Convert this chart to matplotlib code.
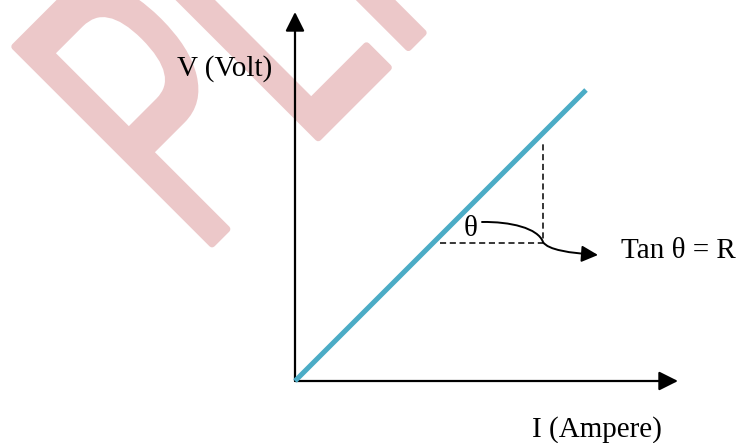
"""V-I characteristic of an ohmic conductor: slope of the line gives R."""
import matplotlib
matplotlib.use('Agg')
import matplotlib.pyplot as plt
from matplotlib import patheffects
from matplotlib.patches import FancyArrowPatch
from matplotlib.path import Path
from matplotlib.transforms import Affine2D

# straight V-I line (pixel-like units, origin at the axes corner)
I_line = [0, 291]
V_line = [0, 291]
# slope triangle drawn with dashes
tri_I = [145, 248, 248]
tri_V = [138, 138, 238]
# axis extents (arrow tips)
I_max = 383
V_max = 369

BLUE = '#4bacc6'
PINK = '#ecc8c9'
SERIF = ['Liberation Serif', 'DejaVu Serif']


class Narrow(patheffects.AbstractPathEffect):
    """Squeeze glyphs sideways and round them off with a fat stroke."""
    def __init__(self, sx, lw):
        super().__init__()
        self.sx, self.lw = sx, lw

    def draw_path(self, renderer, gc, tpath, affine, rgbFace=None):
        gc0 = renderer.new_gc()
        gc0.copy_properties(gc)
        gc0.set_linewidth(self.lw)
        gc0.set_joinstyle('round')
        gc0.set_capstyle('round')
        gc0.set_foreground(rgbFace)
        renderer.draw_path(gc0, tpath, Affine2D().scale(self.sx, 1) + affine, rgbFace)
        gc0.restore()


fig = plt.figure(figsize=(7.38, 4.43), dpi=100)
ax = fig.add_axes([0, 0, 1, 1])
ax.set_xlim(-295, 443)
ax.set_ylim(-62, 381)
ax.axis('off')

# watermark
wm = ax.text(-96, 124, 'PLI', family='Liberation Sans', fontsize=292, color=PINK,
             rotation=45, rotation_mode='anchor', ha='left', va='baseline', zorder=0)
wm.set_path_effects([Narrow(0.555, 5.0)])

# axes with arrow heads
arrow_kw = dict(arrowstyle='-|>,head_length=0.4,head_width=0.2', mutation_scale=29,
                lw=1.6, color='black', shrinkA=0, shrinkB=0)
ax.annotate('', xy=(0, V_max), xytext=(0, 0), arrowprops=arrow_kw, zorder=3)
ax.annotate('', xy=(I_max, 0), xytext=(0, 0), arrowprops=arrow_kw, zorder=3)

ax.plot(I_line, V_line, color=BLUE, lw=3.6, solid_capstyle='butt', zorder=4)
ax.plot(tri_I, tri_V, color='black', lw=1.1, linestyle=(0, (4, 2.4)), zorder=2)

# curved pointer from the angle to the label
verts = [(187, 159), (215, 159.5), (243, 153), (248, 139),
         (253, 131), (275, 128), (303, 126)]
codes = [Path.MOVETO, Path.CURVE4, Path.CURVE4, Path.CURVE4,
         Path.CURVE4, Path.CURVE4, Path.CURVE4]
ax.add_patch(FancyArrowPatch(path=Path(verts, codes),
                             arrowstyle='-|>,head_length=0.4,head_width=0.2',
                             mutation_scale=25, lw=1.4, color='black', zorder=3))

ax.text(-118, 305, 'V (Volt)', family=SERIF, fontsize=21, ha='left', va='baseline')
ax.text(237, -56, 'I (Ampere)', family=SERIF, fontsize=21, ha='left', va='baseline')
ax.text(176, 145, 'θ', family=SERIF, fontsize=21, ha='center', va='baseline')
ax.text(326, 123, 'Tan θ = R', family=SERIF, fontsize=21, ha='left', va='baseline')

fig.savefig('out.png', dpi=100)
